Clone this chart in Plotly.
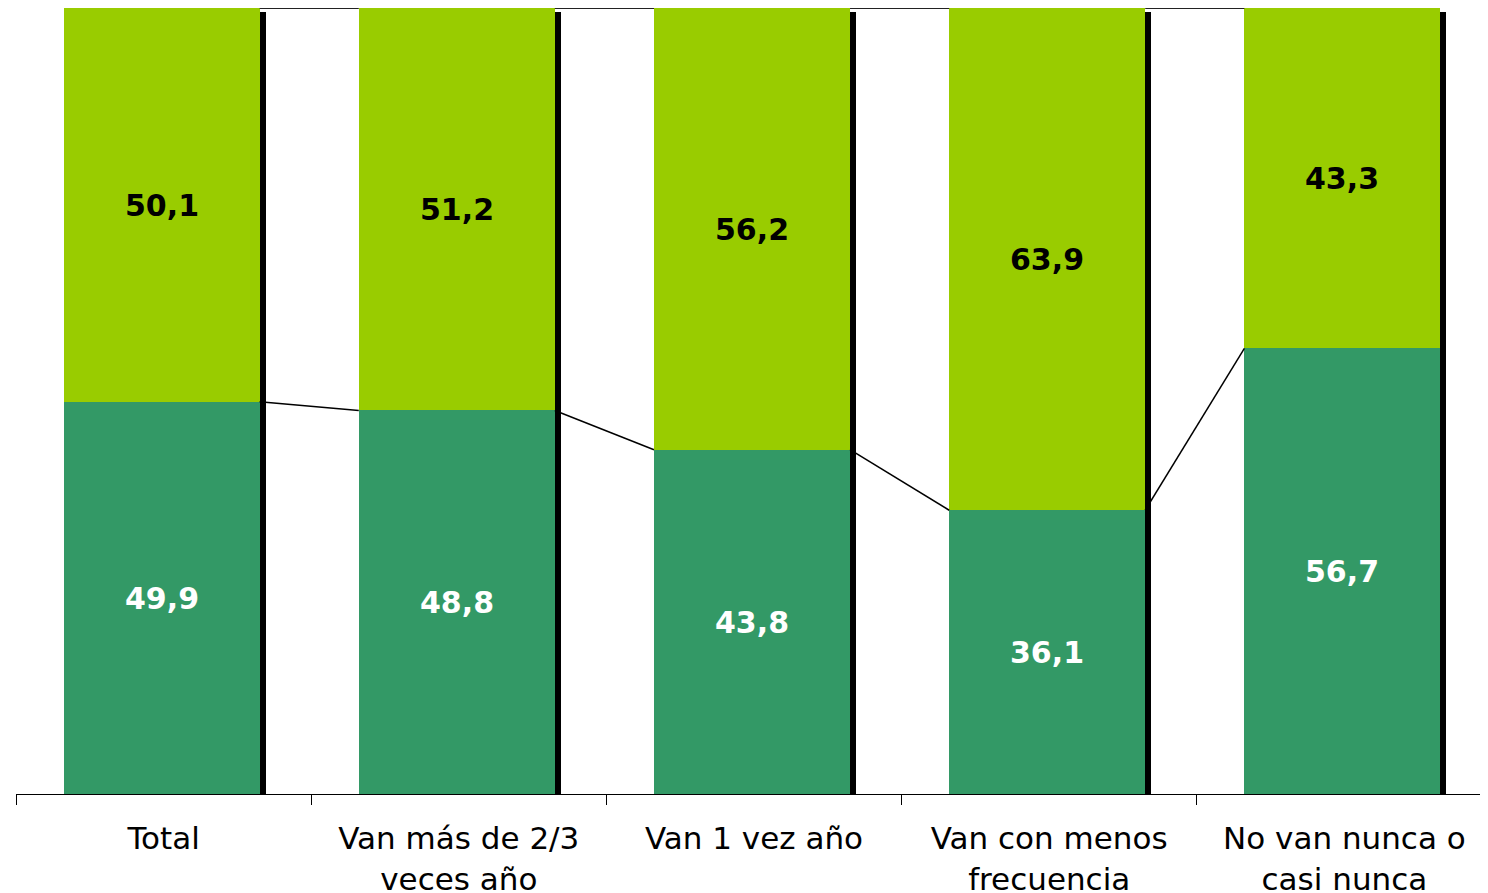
import plotly.graph_objects as go

categories = ["Total", "Van más de 2/3<br>veces año", "Van 1 vez año",
              "Van con menos<br>frecuencia", "No van nunca o<br>casi nunca"]
dark_values = [49.9, 48.8, 43.8, 36.1, 56.7]
light_values = [50.1, 51.2, 56.2, 63.9, 43.3]

DARK = "#339966"
LIGHT = "#99CC00"

n = len(categories)
idx = list(range(n))
W = 0.664  # bar width (category units)

W_PX, H_PX = 1488, 893
ML, MR, MT, MB = 8, 0, 0, 107
plot_w = W_PX - ML - MR
plot_h = H_PX - MT - MB
px_per_unit = 295.2
x_lo = -0.5
x_hi = x_lo + plot_w / px_per_unit
y_hi = 100.0
shift = -2 / px_per_unit
dx = 6 / px_per_unit
dy = 4 / plot_h * y_hi
bar_off = -W / 2 + shift

fig = go.Figure()

# shadow
fig.add_trace(go.Bar(x=idx, y=[100] * n, base=[-dy] * n, width=W,
                     offset=bar_off + dx, marker=dict(color="black", line_width=0),
                     hoverinfo="skip", showlegend=False))
# dark (bottom)
fig.add_trace(go.Bar(x=idx, y=dark_values, width=W, offset=bar_off,
                     marker=dict(color=DARK, line_width=0),
                     texttemplate="%{y:.1f}", textposition="inside",
                     insidetextanchor="middle", textangle=0,
                     textfont=dict(family="DejaVu Sans", size=30, color="white", weight="bold"),
                     showlegend=False))
# light (top)
fig.add_trace(go.Bar(x=idx, y=light_values, base=dark_values, width=W, offset=bar_off,
                     marker=dict(color=LIGHT, line_width=0),
                     texttemplate="%{y:.1f}", textposition="inside",
                     insidetextanchor="middle", textangle=0,
                     textfont=dict(family="DejaVu Sans", size=30, color="black", weight="bold"),
                     showlegend=False))

# series lines
sx, sy, tx, ty = [], [], [], []
for i in range(n - 1):
    sx += [i + bar_off + W, i + 1 + bar_off, None]
    sy += [dark_values[i], dark_values[i + 1], None]
    tx += [i + bar_off + W, i + 1 + bar_off, None]
    ty += [dark_values[i] + light_values[i], dark_values[i + 1] + light_values[i + 1], None]
fig.add_trace(go.Scatter(x=sx, y=sy, mode="lines", line=dict(color="black", width=1.5),
                         hoverinfo="skip", showlegend=False, cliponaxis=False))
fig.add_trace(go.Scatter(x=tx, y=ty, mode="lines", line=dict(color="#222222", width=2),
                         hoverinfo="skip", showlegend=False, cliponaxis=False))

fig.update_layout(
    width=W_PX, height=H_PX,
    margin=dict(l=ML, r=MR, t=MT, b=MB),
    barmode="overlay", bargap=0,
    separators=",.",
    paper_bgcolor="white", plot_bgcolor="white",
    font=dict(family="DejaVu Sans", size=31, color="black"),
    xaxis=dict(range=[x_lo, x_hi], tickmode="array", tickvals=idx, ticktext=categories,
               ticks="", showgrid=False, zeroline=False, showline=True,
               linecolor="black", linewidth=1, ticklabelstandoff=17,
               tickfont=dict(family="DejaVu Sans", size=31, color="black"),
               minor=dict(ticks="outside", ticklen=10, tickwidth=1, tickcolor="black",
                          tickmode="linear", tick0=-0.5, dtick=1, showgrid=False)),
    yaxis=dict(range=[0, y_hi], visible=False, showgrid=False, zeroline=False),
)

fig.write_html("out.html")
